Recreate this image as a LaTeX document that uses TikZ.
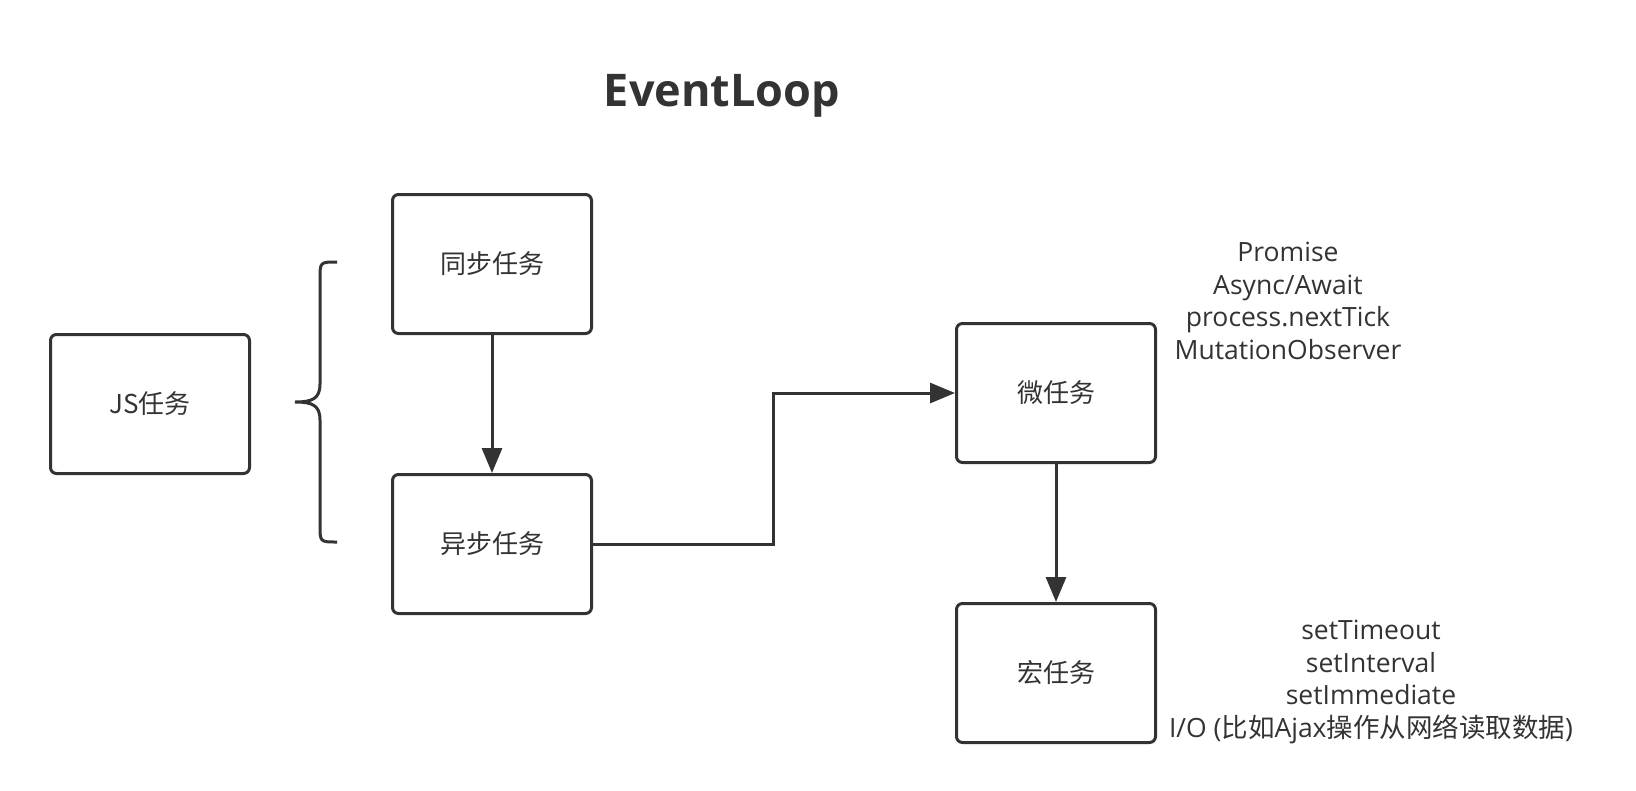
\documentclass[tikz,border=0pt]{standalone}
\usepackage{fontspec}
\setmainfont{Open Sans}
\newfontfamily\cjk{Noto Sans CJK SC}
\usetikzlibrary{arrows.meta}
\definecolor{ink}{HTML}{333333}
\tikzset{
  box/.style={draw=ink, line width=3pt, rounded corners=6pt, minimum width=199pt, minimum height=139pt, text=ink, font=\fontsize{26}{32}\selectfont\cjk},
  note/.style={align=center, text=ink, font=\fontsize{26.5}{32.5}\selectfont},
  flow/.style={draw=ink, line width=3pt, ->}
}

\begin{document}
\begin{tikzpicture}[x=1pt, y=-1pt, node distance=280pt, >={Triangle[length=25pt,width=20pt]}]
	\useasboundingbox (0,0) rectangle (1636,790);
	\node(title) at (722,96) [text=ink, font=\fontsize{45}{52}\selectfont\bfseries] {EventLoop};
	\node(js)[box] at (150,404) {JS任务};
	\node(sync)[box] at (492,264) {同步任务};
	\node(async)[box, below of=sync] {异步任务};
	\node(micro)[box] at (1056,393) {微任务};
	\node(macro)[box, below of=micro] {宏任务};
	\node(microlist)[note] at (1288,301) {Promise\\Async/Await\\process.nextTick\\MutationObserver};
	\node(macrolist)[note] at (1371,682) {setTimeout\\setInterval\\setImmediate\\I/O ({\cjk 比如}Ajax{\cjk 操作从网络读取数据})};
	\coordinate(bend) at (773,393);
	% brace round the two kinds of task
	\draw[ink, line width=3pt] (337,262) .. controls (320,262) .. (320,279) -- (320,384)
		.. controls (320,399) and (312,402) .. (295,402) .. controls (312,402) and (320,405) .. (320,420)
		-- (320,525) .. controls (320,542) .. (337,542);
	\draw[flow](sync) to (async);
	\draw[flow](async.east) -| (bend) -- (micro.west);
	\draw[flow](micro) to (macro);
\end{tikzpicture}
\end{document}
